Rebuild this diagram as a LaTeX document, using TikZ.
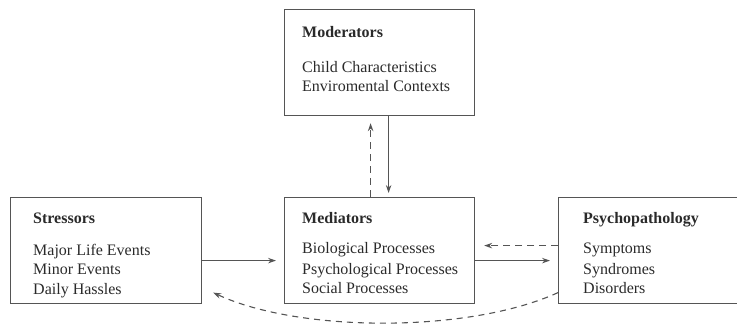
\documentclass[tikz,border=0pt]{standalone}
\usepackage{fontspec}
\setmainfont{Liberation Serif}
\usetikzlibrary{arrows.meta}
\definecolor{ln}{HTML}{555555}
\definecolor{tx}{HTML}{2A2A2A}
\begin{document}
\begin{tikzpicture}[x=1pt,y=-1pt,
  box/.style={draw=ln,line width=1.2pt,rectangle,inner sep=0pt,anchor=north west},
  txt/.style={anchor=base west,inner sep=0pt,text=tx,font=\fontsize{16}{20}\selectfont},
  hd/.style={txt,font=\fontsize{16}{20}\selectfont\bfseries},
  arr/.style={draw=ln,line width=1.1pt,-{Stealth[length=8pt,width=5.5pt]}},
  dsh/.style={arr,dash pattern=on 7pt off 5pt}]
\useasboundingbox (0,0) rectangle (737,326);
% boxes
\node[box,minimum width=190pt,minimum height=106pt] (mod) at (284,9) {};
\node[box,minimum width=191pt,minimum height=106pt] (str) at (10,197) {};
\node[box,minimum width=190pt,minimum height=106pt] (med) at (284,197) {};
\node[box,minimum width=200pt,minimum height=106pt] (psy) at (558,197) {};
% texts
\node[hd]  (modh) at (302,38) {Moderators};
\node[txt] (mod1) at (302,73) {Child Characteristics};
\node[txt] (mod2) at (302,92) {Enviromental Contexts};
\node[hd]  (strh) at (33,224) {Stressors};
\node[txt] (str1) at (33,255) {Major Life Events};
\node[txt] (str2) at (33,274) {Minor Events};
\node[txt] (str3) at (33,294) {Daily Hassles};
\node[hd]  (medh) at (302,224) {Mediators};
\node[txt] (med1) at (302,254) {Biological Processes};
\node[txt] (med2) at (302,274) {Psychological Processes};
\node[txt] (med3) at (302,293) {Social Processes};
\node[hd]  (psyh) at (583,224) {Psychopathology};
\node[txt] (psy1) at (583,254) {Symptoms};
\node[txt] (psy2) at (583,274) {Syndromes};
\node[txt] (psy3) at (583,293) {Disorders};
% connectors
\draw[arr,shorten >=8pt] ([yshift=-10pt]str.east) -- ([yshift=-10pt]med.west);
\draw[arr,shorten >=8pt] ([yshift=-10pt]med.east) -- ([yshift=-10pt]psy.west);
\draw[dsh,shorten >=9pt] ([yshift=5pt]psy.west) -- ([yshift=5pt]med.east);
\draw[arr,shorten >=4pt] ([xshift=9pt]mod.south) -- ([xshift=9pt]med.north);
\draw[dsh,shorten >=7pt] ([xshift=-9pt]med.north) -- ([xshift=-9pt]mod.south);
\coordinate (ctip) at ([xshift=11pt,yshift=-42pt]str.east);
\draw[dsh,dash pattern=on 6pt off 5pt] ([yshift=-42pt]psy.west) .. controls (470,333) and (300,333) .. (ctip);
\end{tikzpicture}
\end{document}
